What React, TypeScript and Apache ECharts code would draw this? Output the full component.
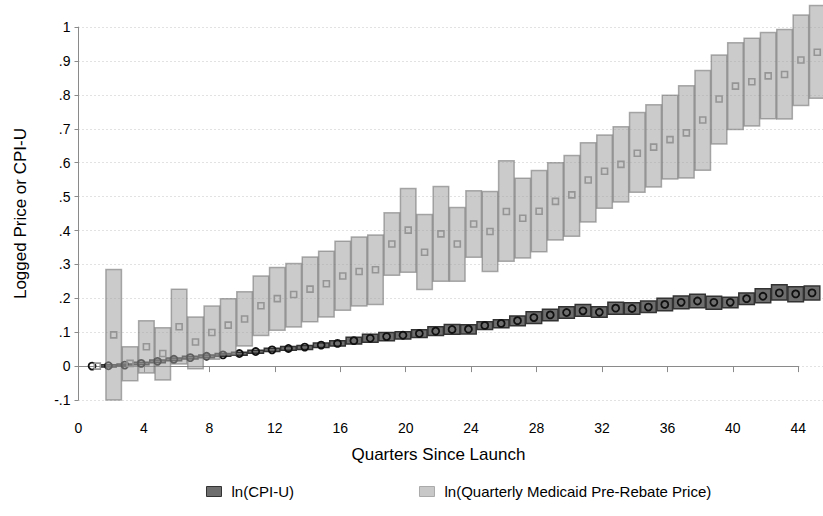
import React, { useEffect, useRef } from "react";
import * as echarts from "echarts";

const quarters = [1, 2, 3, 4, 5, 6, 7, 8, 9, 10, 11, 12, 13, 14, 15, 16, 17, 18, 19, 20, 21, 22, 23, 24, 25, 26, 27, 28, 29, 30, 31, 32, 33, 34, 35, 36, 37, 38, 39, 40, 41, 42, 43, 44, 45];

const cpiMid = [0.0, 0.001, 0.003, 0.008, 0.014, 0.02, 0.025, 0.029, 0.033, 0.037, 0.043, 0.048, 0.052, 0.056, 0.062, 0.067, 0.075, 0.082, 0.087, 0.091, 0.096, 0.103, 0.108, 0.109, 0.12, 0.126, 0.134, 0.143, 0.151, 0.158, 0.163, 0.159, 0.171, 0.17, 0.174, 0.182, 0.188, 0.192, 0.188, 0.188, 0.199, 0.206, 0.216, 0.213, 0.216];
const cpiLow = [null, -0.003, 0.0, 0.004, 0.01, 0.016, 0.021, 0.025, 0.029, 0.032, 0.038, 0.043, 0.047, 0.049, 0.055, 0.059, 0.065, 0.07, 0.075, 0.08, 0.084, 0.09, 0.094, 0.095, 0.108, 0.113, 0.119, 0.126, 0.134, 0.141, 0.147, 0.144, 0.153, 0.153, 0.158, 0.163, 0.169, 0.172, 0.168, 0.172, 0.182, 0.187, 0.195, 0.19, 0.195];
const cpiHigh = [null, 0.004, 0.006, 0.011, 0.018, 0.024, 0.029, 0.033, 0.037, 0.041, 0.047, 0.053, 0.058, 0.061, 0.068, 0.075, 0.085, 0.094, 0.099, 0.101, 0.107, 0.116, 0.123, 0.122, 0.131, 0.137, 0.148, 0.16, 0.168, 0.175, 0.182, 0.175, 0.188, 0.187, 0.192, 0.2, 0.207, 0.212, 0.206, 0.203, 0.216, 0.228, 0.24, 0.234, 0.236];

const rxMid = [0.0, 0.092, 0.008, 0.057, 0.037, 0.116, 0.071, 0.099, 0.121, 0.139, 0.178, 0.199, 0.211, 0.227, 0.243, 0.266, 0.279, 0.284, 0.36, 0.401, 0.336, 0.39, 0.36, 0.419, 0.397, 0.456, 0.436, 0.457, 0.486, 0.505, 0.549, 0.575, 0.595, 0.628, 0.646, 0.668, 0.688, 0.726, 0.788, 0.826, 0.839, 0.856, 0.86, 0.903, 0.926];
const rxLow = [null, -0.1, -0.043, -0.02, -0.041, 0.006, -0.008, 0.02, 0.033, 0.059, 0.09, 0.106, 0.115, 0.131, 0.145, 0.165, 0.177, 0.182, 0.268, 0.277, 0.226, 0.25, 0.25, 0.321, 0.279, 0.309, 0.319, 0.337, 0.372, 0.383, 0.425, 0.466, 0.484, 0.513, 0.528, 0.552, 0.555, 0.578, 0.655, 0.698, 0.708, 0.73, 0.729, 0.769, 0.79];
const rxHigh = [null, 0.285, 0.057, 0.134, 0.113, 0.227, 0.145, 0.177, 0.199, 0.219, 0.266, 0.291, 0.303, 0.322, 0.339, 0.368, 0.381, 0.387, 0.452, 0.524, 0.447, 0.53, 0.468, 0.517, 0.515, 0.606, 0.554, 0.577, 0.6, 0.621, 0.659, 0.682, 0.706, 0.748, 0.771, 0.799, 0.827, 0.872, 0.918, 0.954, 0.967, 0.984, 0.993, 1.036, 1.064];

const CPI_NAME = "ln(CPI-U)";
const RX_NAME = "ln(Quarterly Medicaid Pre-Rebate Price)";

const FONT = '"Liberation Sans", Arial, Helvetica, sans-serif';
const CPI_OFFSET = -0.17;
const RX_OFFSET = 0.15;
const BOX_W = 0.95;

function fmtY(v: number): string {
  const r = Math.round(v * 10) / 10;
  if (Math.abs(r) < 1e-9) return "0";
  return r.toString().replace(/^(-?)0\./, "$1.");
}

function boxData(lo: (number | null)[], hi: (number | null)[], off: number) {
  const out: number[][] = [];
  quarters.forEach((q, i) => {
    if (lo[i] != null && hi[i] != null) out.push([q + off, lo[i] as number, hi[i] as number]);
  });
  return out;
}

function makeBox(fill: string, stroke: string, lineWidth: number) {
  return (params: any, api: any) => {
    const x = api.value(0);
    const lo = api.value(1);
    const hi = api.value(2);
    const pTop = api.coord([x, hi]);
    const pBot = api.coord([x, lo]);
    const w = api.size([BOX_W, 0])[0];
    return {
      type: "rect",
      shape: { x: pTop[0] - w / 2, y: pTop[1], width: w, height: pBot[1] - pTop[1] },
      style: { fill, stroke, lineWidth },
    };
  };
}

export default function App() {
  const ref = useRef<HTMLDivElement>(null);
  useEffect(() => {
    if (!ref.current) return;
    const chart = echarts.init(ref.current, undefined, { renderer: "svg" });
    const axisColor = "#8a8a8a";
    const option: any = {
      animation: false,
      textStyle: { fontFamily: FONT },
      grid: [
        { left: 78.5, right: 0, top: 27.1, bottom: 116 },
        { left: 78.5, right: 24.7, top: 27.1, bottom: 116 },
      ],
      xAxis: [
        { gridIndex: 0, type: "value", min: 0, max: 45.5, show: false },
        {
          gridIndex: 1,
          type: "value",
          min: 0,
          max: 44,
          interval: 4,
          offset: 13,
          axisLine: { show: true, lineStyle: { color: axisColor, width: 1 } },
          axisTick: { show: true, length: 6, lineStyle: { color: axisColor } },
          axisLabel: { color: "#000", fontSize: 14, margin: 8, fontFamily: FONT },
          splitLine: { show: false },
          name: "Quarters Since Launch",
          nameLocation: "middle",
          nameGap: 33,
          nameTextStyle: { color: "#000", fontSize: 17, fontFamily: FONT },
        },
      ],
      yAxis: [
        {
          gridIndex: 0,
          type: "value",
          min: -0.1,
          max: 1,
          interval: 0.1,
          axisLine: { show: false },
          axisTick: { show: false },
          axisLabel: { show: false },
          splitLine: { show: true, lineStyle: { color: "#c4c4c4", type: [1, 3], width: 1 } },
        },
        {
          gridIndex: 1,
          type: "value",
          min: -0.1,
          max: 1,
          interval: 0.1,
          axisLine: { show: true, lineStyle: { color: axisColor, width: 1 } },
          axisTick: { show: true, length: 4, lineStyle: { color: axisColor } },
          axisLabel: { color: "#000", fontSize: 14, margin: 8, fontFamily: FONT, formatter: fmtY },
          splitLine: { show: false },
          name: "Logged Price or CPI-U",
          nameLocation: "middle",
          nameGap: 50,
          nameTextStyle: { color: "#000", fontSize: 17, fontFamily: FONT },
        },
      ],
      legend: {
        left: 201,
        top: 479,
        itemWidth: 15,
        itemHeight: 10,
        itemGap: 125,
        selectedMode: false,
        textStyle: { color: "#000", fontSize: 15, fontFamily: FONT, padding: [0, 0, 0, 5] },
        data: [
          { name: CPI_NAME, icon: "rect", itemStyle: { color: "#6e6e6e", borderColor: "#333", borderWidth: 1 } },
          { name: RX_NAME, icon: "rect", itemStyle: { color: "#c8c8c8", borderColor: "#aaa", borderWidth: 1 } },
        ],
      },
      series: [
        {
          type: "custom",
          name: CPI_NAME,
          xAxisIndex: 0,
          yAxisIndex: 0,
          silent: true,
          z: 2,
          itemStyle: { color: "#6e6e6e" },
          encode: { x: 0, y: [1, 2] },
          renderItem: makeBox("#6e6e6e", "#333333", 1.5),
          data: boxData(cpiLow, cpiHigh, CPI_OFFSET),
        },
        {
          type: "scatter",
          name: "cpi-markers",
          xAxisIndex: 0,
          yAxisIndex: 0,
          silent: true,
          z: 3,
          symbol: "circle",
          symbolSize: 7,
          itemStyle: { color: "rgba(0,0,0,0)", borderColor: "#111", borderWidth: 1.8, opacity: 1 },
          data: quarters.map((q, i) => [q + CPI_OFFSET, cpiMid[i]]),
        },
        {
          type: "custom",
          name: RX_NAME,
          xAxisIndex: 0,
          yAxisIndex: 0,
          silent: true,
          z: 4,
          itemStyle: { color: "#c8c8c8" },
          encode: { x: 0, y: [1, 2] },
          renderItem: makeBox("rgba(160,160,160,0.55)", "rgba(110,110,110,0.55)", 1.5),
          data: boxData(rxLow, rxHigh, RX_OFFSET),
        },
        {
          type: "scatter",
          name: "rx-markers",
          xAxisIndex: 0,
          yAxisIndex: 0,
          silent: true,
          z: 5,
          symbol: "rect",
          symbolSize: 6,
          itemStyle: { color: "rgba(0,0,0,0)", borderColor: "#959595", borderWidth: 1.6, opacity: 1 },
          data: quarters.map((q, i) => [q + RX_OFFSET, rxMid[i]]),
        },
      ],
    };
    chart.setOption(option);
    return () => chart.dispose();
  }, []);
  return (
    <div
      ref={ref}
      style={{ position: "fixed", left: 0, top: 0, width: 823, height: 516, background: "#fff" }}
    />
  );
}
